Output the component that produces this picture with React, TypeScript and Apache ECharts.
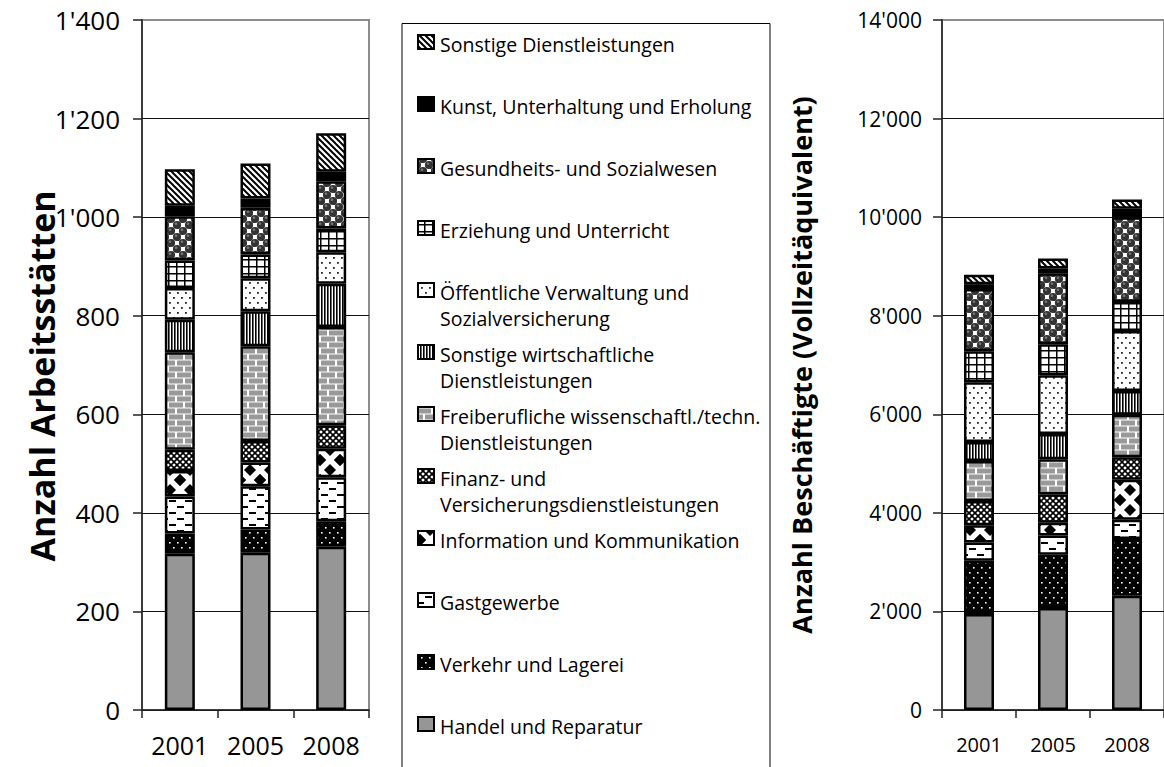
import React, { useEffect, useRef } from "react";
import * as echarts from "echarts";

const years = ["2001", "2005", "2008"];
// bottom -> top
const sectors = [
  "Handel und Reparatur",
  "Verkehr und Lagerei",
  "Gastgewerbe",
  "Information und Kommunikation",
  "Finanz- und Versicherungsdienstleistungen",
  "Freiberufliche wissenschaftl./techn. Dienstleistungen",
  "Sonstige wirtschaftliche Dienstleistungen",
  "Öffentliche Verwaltung und Sozialversicherung",
  "Erziehung und Unterricht",
  "Gesundheits- und Sozialwesen",
  "Kunst, Unterhaltung und Erholung",
  "Sonstige Dienstleistungen",
];
const legendLines = [
  ["Handel und Reparatur"],
  ["Verkehr und Lagerei"],
  ["Gastgewerbe"],
  ["Information und Kommunikation"],
  ["Finanz- und", "Versicherungsdienstleistungen"],
  ["Freiberufliche wissenschaftl./techn.", "Dienstleistungen"],
  ["Sonstige wirtschaftliche", "Dienstleistungen"],
  ["Öffentliche Verwaltung und", "Sozialversicherung"],
  ["Erziehung und Unterricht"],
  ["Gesundheits- und Sozialwesen"],
  ["Kunst, Unterhaltung und Erholung"],
  ["Sonstige Dienstleistungen"],
];

// Anzahl Arbeitsstätten, per year, in sector order
const arbeitsstaetten2001 = [317, 41, 75, 52, 43, 198, 66, 64, 56, 90, 21, 74];
const arbeitsstaetten2005 = [319, 47, 88, 48, 44, 192, 71, 67, 48, 95, 19, 71];
const arbeitsstaetten2008 = [331, 52, 89, 58, 48, 199, 88, 64, 48, 96, 19, 78];

// Anzahl Beschäftigte (Vollzeitäquivalent), per year, in sector order
const beschaeftigte2001 = [1950, 1080, 370, 350, 490, 810, 390, 1210, 630, 1260, 100, 190];
const beschaeftigte2005 = [2070, 1080, 390, 260, 580, 710, 510, 1190, 630, 1440, 100, 200];
const beschaeftigte2008 = [2320, 1150, 390, 810, 460, 860, 480, 1220, 590, 1720, 170, 190];

const leftTicks = [0, 200, 400, 600, 800, 1000, 1200, 1400];
const rightTicks = [0, 2000, 4000, 6000, 8000, 10000, 12000, 14000];

const FONT = "'Open Sans', 'DejaVu Sans', sans-serif";
const fmt = (v: number) => String(v).replace(/\B(?=(\d{3})+(?!\d))/g, "'");

function mk(w: number, h: number, draw: (g: CanvasRenderingContext2D) => void) {
  const c = document.createElement("canvas");
  c.width = w;
  c.height = h;
  const g = c.getContext("2d") as CanvasRenderingContext2D;
  draw(g);
  return { image: c, repeat: "repeat" } as any;
}

function wrapDraw(w: number, h: number, fn: (dx: number, dy: number) => void) {
  for (const dx of [-w, 0, w]) for (const dy of [-h, 0, h]) fn(dx, dy);
}

function makeFills() {
  const handel = "#969696";
  const verkehr = mk(8, 10, (g) => {
    g.fillStyle = "#000";
    g.fillRect(0, 0, 8, 10);
    g.fillStyle = "#fff";
    g.fillRect(1, 2, 1.6, 1.6);
    g.fillRect(5, 7, 1.6, 1.6);
  });
  const gast = mk(16, 12, (g) => {
    g.fillStyle = "#fff";
    g.fillRect(0, 0, 16, 12);
    g.fillStyle = "#000";
    g.fillRect(1, 2, 7, 2);
    g.fillRect(9, 8, 7, 2);
  });
  const info = mk(20, 20, (g) => {
    g.fillStyle = "#fff";
    g.fillRect(0, 0, 20, 20);
    g.fillStyle = "#000";
    const dia = (cx: number, cy: number, r: number) => {
      g.beginPath();
      g.moveTo(cx, cy - r);
      g.lineTo(cx + r, cy);
      g.lineTo(cx, cy + r);
      g.lineTo(cx - r, cy);
      g.closePath();
      g.fill();
    };
    dia(10, 10, 6);
    wrapDraw(20, 20, (dx, dy) => dia(dx, dy, 6));
    wrapDraw(20, 20, (dx, dy) => dia(20 + dx, 20 + dy, 6));
  });
  const finanz = mk(6, 6, (g) => {
    g.fillStyle = "#fff";
    g.fillRect(0, 0, 6, 6);
    g.strokeStyle = "#000";
    g.lineWidth = 1.6;
    for (let k = -6; k <= 6; k += 6) {
      g.beginPath();
      g.moveTo(k - 1, -1);
      g.lineTo(k + 7, 7);
      g.stroke();
      g.beginPath();
      g.moveTo(k - 1, 7);
      g.lineTo(k + 7, -1);
      g.stroke();
    }
  });
  const frei = mk(16, 12, (g) => {
    g.fillStyle = "#fff";
    g.fillRect(0, 0, 16, 12);
    g.fillStyle = "#999";
    g.fillRect(1, 0.5, 14, 5);
    g.fillRect(9, 6.5, 7, 5);
    g.fillRect(0, 6.5, 7, 5);
  });
  const sonstWirt = mk(3, 3, (g) => {
    g.fillStyle = "#fff";
    g.fillRect(0, 0, 3, 3);
    g.fillStyle = "#000";
    g.fillRect(0, 0, 1.6, 3);
  });
  const oeff = mk(8, 10, (g) => {
    g.fillStyle = "#fff";
    g.fillRect(0, 0, 8, 10);
    g.fillStyle = "#222";
    g.fillRect(1, 2, 1.8, 1.8);
    g.fillRect(5, 7, 1.8, 1.8);
  });
  const erz = mk(8, 7, (g) => {
    g.fillStyle = "#fff";
    g.fillRect(0, 0, 8, 7);
    g.fillStyle = "#000";
    g.fillRect(0, 0, 8, 1.5);
    g.fillRect(0, 0, 1.5, 7);
  });
  const ges = mk(12, 12, (g) => {
    g.fillStyle = "#fff";
    g.fillRect(0, 0, 12, 12);
    const ball = (cx: number, cy: number) => {
      g.fillStyle = "#333";
      g.beginPath();
      g.arc(cx, cy, 4.1, 0, Math.PI * 2);
      g.fill();
      g.fillStyle = "#777";
      g.beginPath();
      g.arc(cx - 1, cy - 1.2, 1.3, 0, Math.PI * 2);
      g.fill();
    };
    wrapDraw(12, 12, (dx, dy) => {
      ball(3 + dx, 3 + dy);
      ball(9 + dx, 9 + dy);
    });
  });
  const kunst = "#000";
  const sonstDL = mk(6, 6, (g) => {
    g.fillStyle = "#fff";
    g.fillRect(0, 0, 6, 6);
    g.strokeStyle = "#000";
    g.lineWidth = 2;
    for (let k = -6; k <= 6; k += 6) {
      g.beginPath();
      g.moveTo(k - 1, -1);
      g.lineTo(k + 7, 7);
      g.stroke();
    }
  });
  return [handel, verkehr, gast, info, finanz, frei, sonstWirt, oeff, erz, ges, kunst, sonstDL];
}

export default function App() {
  const ref = useRef<HTMLDivElement>(null);
  useEffect(() => {
    if (!ref.current) return;
    const chart = echarts.init(ref.current, undefined, { renderer: "svg" });
    const fills = makeFills();
    const leftByYear = [arbeitsstaetten2001, arbeitsstaetten2005, arbeitsstaetten2008];
    const rightByYear = [beschaeftigte2001, beschaeftigte2005, beschaeftigte2008];

    const series: any[] = [];
    sectors.forEach((name, s) => {
      const itemStyle = { color: fills[s], borderColor: "#000", borderWidth: 2.5 };
      series.push({
        type: "bar",
        name,
        stack: "L",
        xAxisIndex: 0,
        yAxisIndex: 0,
        barWidth: 30,
        itemStyle,
        data: leftByYear.map((arr) => arr[s]),
      });
      series.push({
        type: "bar",
        name,
        stack: "R",
        xAxisIndex: 1,
        yAxisIndex: 1,
        barWidth: 30,
        itemStyle,
        data: rightByYear.map((arr) => arr[s]),
      });
    });

    const gridLineColors = (n: number) => {
      const a: string[] = [];
      for (let i = 0; i < n; i++) a.push(i === n - 1 ? "#8c8c8c" : "#111");
      return a;
    };

    const yAxisCommon = (ticks: number[], fontSize: number, margin: number) => ({
      type: "value",
      min: ticks[0],
      max: ticks[ticks.length - 1],
      interval: ticks[1] - ticks[0],
      axisLine: { show: true, lineStyle: { color: "#222", width: 1.5 } },
      axisTick: { show: true, length: 9, lineStyle: { color: "#222", width: 1.5 } },
      axisLabel: { formatter: (v: number) => fmt(v), fontSize, color: "#000", fontFamily: FONT, margin },
      splitLine: { show: true, lineStyle: { color: gridLineColors(ticks.length), width: 1 } },
    });
    const xAxisCommon = (gridIndex: number, fontSize: number, margin: number) => ({
      type: "category",
      gridIndex,
      data: years,
      axisLine: { show: true, lineStyle: { color: "#222", width: 1.5 } },
      axisTick: { show: true, length: 8, lineStyle: { color: "#222", width: 1.5 } },
      axisLabel: { fontSize, color: "#000", fontFamily: FONT, margin, interval: 0 },
    });

    const graphic: any[] = [];
    graphic.push({
      type: "rect",
      shape: { x: 402, y: 23.5, width: 368, height: 760 },
      style: { fill: "none", stroke: "#000", lineWidth: 1 },
    });
    sectors.forEach((_, s) => {
      const pos = sectors.length - 1 - s;
      const cy = 44 + 62 * pos;
      graphic.push({
        type: "rect",
        shape: { x: 418, y: cy - 9, width: 16, height: 14 },
        style: { fill: fills[s], stroke: "#000", lineWidth: 2 },
      });
      legendLines[s].forEach((line, li) => {
        graphic.push({
          type: "text",
          x: 440,
          y: cy + 26 * li,
          style: {
            text: line,
            font: `19.5px ${FONT}`,
            fill: "#000",
            textAlign: "left",
            textVerticalAlign: "middle",
          },
        });
      });
    });
    graphic.push({
      type: "text",
      x: 42,
      y: 376,
      rotation: Math.PI / 2,
      style: {
        text: "Anzahl Arbeitsstätten",
        font: `bold 34px ${FONT}`,
        fill: "#000",
        textAlign: "center",
        textVerticalAlign: "middle",
      },
    });
    graphic.push({
      type: "text",
      x: 801,
      y: 365,
      rotation: Math.PI / 2,
      style: {
        text: "Anzahl Beschäftigte (Vollzeitäquivalent)",
        font: `bold 27px ${FONT}`,
        fill: "#000",
        textAlign: "center",
        textVerticalAlign: "middle",
      },
    });

    chart.setOption({
      animation: false,
      backgroundColor: "#fff",
      grid: [
        { left: 142, top: 20, width: 227, height: 690, show: true, borderColor: "#8c8c8c", borderWidth: 2, backgroundColor: "transparent" },
        { left: 942, top: 20, width: 227, height: 690, show: true, borderColor: "#8c8c8c", borderWidth: 2, backgroundColor: "transparent" },
      ],
      xAxis: [xAxisCommon(0, 25, 22), xAxisCommon(1, 20, 24)],
      yAxis: [
        { ...yAxisCommon(leftTicks, 26, 22), gridIndex: 0 },
        { ...yAxisCommon(rightTicks, 21, 20), gridIndex: 1 },
      ],
      series,
      graphic,
    });
    return () => chart.dispose();
  }, []);
  return <div ref={ref} style={{ position: "absolute", left: 0, top: 0, width: 1164, height: 767 }} />;
}
